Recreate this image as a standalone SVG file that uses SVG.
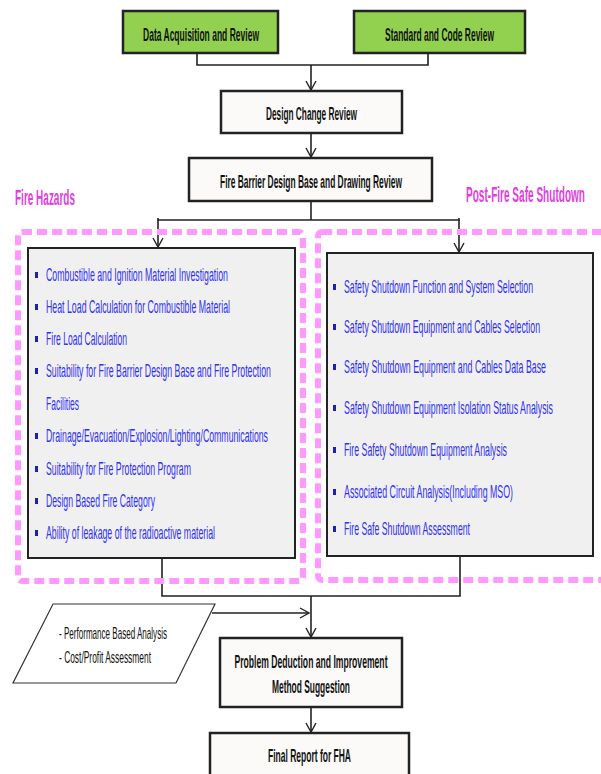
<svg xmlns="http://www.w3.org/2000/svg" width="601" height="774" viewBox="0 0 601 774">
<defs>
<marker id="arr" markerWidth="12" markerHeight="12" refX="10" refY="6" orient="auto" markerUnits="userSpaceOnUse">
<path d="M1,1 L10,6 L1,11" fill="none" stroke="#222" stroke-width="1.4"/>
</marker>
<style>
.box{stroke:#222;stroke-width:2.5}
.green{fill:#92d050}
.white{fill:#fbfaf8}
.gray{fill:#f0f0f0;stroke:#222;stroke-width:2}
.dash{fill:none;stroke:#ff99ff;stroke-width:6;stroke-dasharray:10 5}
.ln{fill:none;stroke:#222;stroke-width:1.6}
.t{font-family:"Liberation Sans",Arial,sans-serif;font-size:18px;fill:#111;font-weight:bold;text-anchor:middle}
.b{font-family:"Liberation Sans",Arial,sans-serif;font-size:18px;fill:#3030f0}
.bul{fill:#2020b0}
.h{font-family:"Liberation Sans",Arial,sans-serif;font-size:22px;fill:#e040e0;font-weight:bold}
.p{font-family:"Liberation Sans",Arial,sans-serif;font-size:17px;fill:#111}
</style>
</defs>
<rect width="601" height="774" fill="#ffffff"/>

<g id="connectors">
<polyline class="ln" points="197,53 197,65 428,65 428,53"/>
<line class="ln" x1="311" y1="65" x2="311" y2="90" marker-end="url(#arr)"/>
<line class="ln" x1="311" y1="133" x2="311" y2="157" marker-end="url(#arr)"/>
<line class="ln" x1="311" y1="201" x2="311" y2="220"/>
<polyline class="ln" points="158,218 158,220 459,220 459,218"/>
<line class="ln" x1="158" y1="220" x2="158" y2="247" marker-end="url(#arr)"/>
<line class="ln" x1="459" y1="220" x2="459" y2="252" marker-end="url(#arr)"/>
<polyline class="ln" points="162,558 162,596 460,596 460,556"/>
<line class="ln" x1="311" y1="596" x2="311" y2="637" marker-end="url(#arr)"/>
<line class="ln" x1="212" y1="613" x2="309" y2="613" marker-end="url(#arr)"/>
<line class="ln" x1="311" y1="707" x2="311" y2="732" marker-end="url(#arr)"/>
</g>

<g id="fire-hazards-group">
<rect class="dash" x="18" y="232" width="285" height="349" rx="4"/>
<text class="h" transform="translate(15,205) scale(0.45,1)" textLength="133.3" lengthAdjust="spacingAndGlyphs">Fire Hazards</text>
</g>
<g id="safe-shutdown-group">
<rect class="dash" x="318" y="232" width="290" height="348" rx="4"/>
<text class="h" transform="translate(466,202) scale(0.45,1)" textLength="264.4" lengthAdjust="spacingAndGlyphs">Post-Fire Safe Shutdown</text>
</g>

<g id="data-acquisition">
<rect class="box green" x="123" y="11" width="155" height="42"/>
<text class="t" transform="translate(201,41) scale(0.45,1)" textLength="257.8" lengthAdjust="spacingAndGlyphs">Data Acquisition and Review</text>
</g>
<g id="standard-code">
<rect class="box green" x="354" y="11" width="171" height="42"/>
<text class="t" transform="translate(439.5,41) scale(0.45,1)" textLength="242.2" lengthAdjust="spacingAndGlyphs">Standard and Code Review</text>
</g>
<g id="design-change">
<rect class="box white" x="221" y="91" width="181" height="42"/>
<text class="t" transform="translate(311.5,120) scale(0.45,1)" textLength="202.2" lengthAdjust="spacingAndGlyphs">Design Change Review</text>
</g>
<g id="fire-barrier">
<rect class="box white" x="189" y="158" width="243" height="43"/>
<text class="t" transform="translate(311,188) scale(0.45,1)" textLength="404.4" lengthAdjust="spacingAndGlyphs">Fire Barrier Design Base and Drawing Review</text>
</g>

<g id="fire-hazards-list">
<rect class="gray" x="28" y="248" width="267" height="310"/>
<rect class="bul" x="35" y="272" width="3" height="6"/>
<text class="b" transform="translate(46,281) scale(0.45,1)" textLength="404.4" lengthAdjust="spacingAndGlyphs">Combustible  and Ignition Material  Investigation</text>
<rect class="bul" x="35" y="304" width="3" height="6"/>
<text class="b" transform="translate(46,313) scale(0.45,1)" textLength="408.9" lengthAdjust="spacingAndGlyphs">Heat Load Calculation for Combustible Material</text>
<rect class="bul" x="35" y="336" width="3" height="6"/>
<text class="b" transform="translate(46,345) scale(0.45,1)" textLength="180" lengthAdjust="spacingAndGlyphs">Fire Load Calculation</text>
<rect class="bul" x="35" y="368" width="3" height="6"/>
<text class="b" transform="translate(46,377) scale(0.45,1)" textLength="500" lengthAdjust="spacingAndGlyphs">Suitability for Fire Barrier Design Base and Fire Protection</text>
<text class="b" transform="translate(46,410) scale(0.45,1)" textLength="73.3" lengthAdjust="spacingAndGlyphs">Facilities</text>
<rect class="bul" x="35" y="433" width="3" height="6"/>
<text class="b" transform="translate(46,442) scale(0.45,1)" textLength="493.3" lengthAdjust="spacingAndGlyphs">Drainage/Evacuation/Explosion/Lighting/Communications</text>
<rect class="bul" x="35" y="466" width="3" height="6"/>
<text class="b" transform="translate(46,475) scale(0.45,1)" textLength="322.2" lengthAdjust="spacingAndGlyphs">Suitability for Fire Protection Program</text>
<rect class="bul" x="35" y="498" width="3" height="6"/>
<text class="b" transform="translate(46,507) scale(0.45,1)" textLength="242.2" lengthAdjust="spacingAndGlyphs">Design Based Fire Category</text>
<rect class="bul" x="35" y="530" width="3" height="6"/>
<text class="b" transform="translate(46,539) scale(0.45,1)" textLength="375.6" lengthAdjust="spacingAndGlyphs">Ability of leakage  of the radioactive  material</text>
</g>

<g id="safe-shutdown-list">
<rect class="gray" x="327" y="253" width="266" height="303"/>
<rect class="bul" x="333" y="284" width="3" height="6"/>
<text class="b" transform="translate(344,293) scale(0.45,1)" textLength="420" lengthAdjust="spacingAndGlyphs">Safety Shutdown  Function and System Selection</text>
<rect class="bul" x="333" y="324" width="3" height="6"/>
<text class="b" transform="translate(344,333) scale(0.45,1)" textLength="435.6" lengthAdjust="spacingAndGlyphs">Safety Shutdown  Equipment and Cables Selection</text>
<rect class="bul" x="333" y="364" width="3" height="6"/>
<text class="b" transform="translate(344,373) scale(0.45,1)" textLength="448.9" lengthAdjust="spacingAndGlyphs">Safety Shutdown  Equipment and Cables Data Base</text>
<rect class="bul" x="333" y="405" width="3" height="6"/>
<text class="b" transform="translate(344,414) scale(0.45,1)" textLength="464.4" lengthAdjust="spacingAndGlyphs">Safety Shutdown  Equipment  Isolation  Status Analysis</text>
<rect class="bul" x="333" y="447" width="3" height="6"/>
<text class="b" transform="translate(344,456) scale(0.45,1)" textLength="362.2" lengthAdjust="spacingAndGlyphs">Fire Safety Shutdown  Equipment  Analysis</text>
<rect class="bul" x="333" y="489" width="3" height="6"/>
<text class="b" transform="translate(344,498) scale(0.45,1)" textLength="375.6" lengthAdjust="spacingAndGlyphs">Associated  Circuit Analysis(Including  MSO)</text>
<rect class="bul" x="333" y="526" width="3" height="6"/>
<text class="b" transform="translate(344,535) scale(0.45,1)" textLength="280" lengthAdjust="spacingAndGlyphs">Fire Safe Shutdown  Assessment</text>
</g>

<g id="analysis-input">
<polygon points="53,604 215,604 176,683 13,683" fill="#ffffff" stroke="#333" stroke-width="1.2"/>
<text class="p" transform="translate(59,639) scale(0.45,1)" textLength="240" lengthAdjust="spacingAndGlyphs">- Performance Based Analysis</text>
<text class="p" transform="translate(59,663) scale(0.45,1)" textLength="204.4" lengthAdjust="spacingAndGlyphs">- Cost/Profit Assessment</text>
</g>

<g id="problem-deduction">
<rect class="box white" x="220" y="638" width="182" height="69"/>
<text class="t" transform="translate(311,668) scale(0.45,1)" textLength="340" lengthAdjust="spacingAndGlyphs">Problem Deduction and Improvement</text>
<text class="t" transform="translate(311,693) scale(0.45,1)" textLength="173.3" lengthAdjust="spacingAndGlyphs">Method Suggestion</text>
</g>
<g id="final-report">
<rect class="box white" x="210" y="733" width="199" height="50"/>
<text class="t" transform="translate(309.5,762) scale(0.45,1)" textLength="184.4" lengthAdjust="spacingAndGlyphs">Final Report for FHA</text>
</g>
</svg>
